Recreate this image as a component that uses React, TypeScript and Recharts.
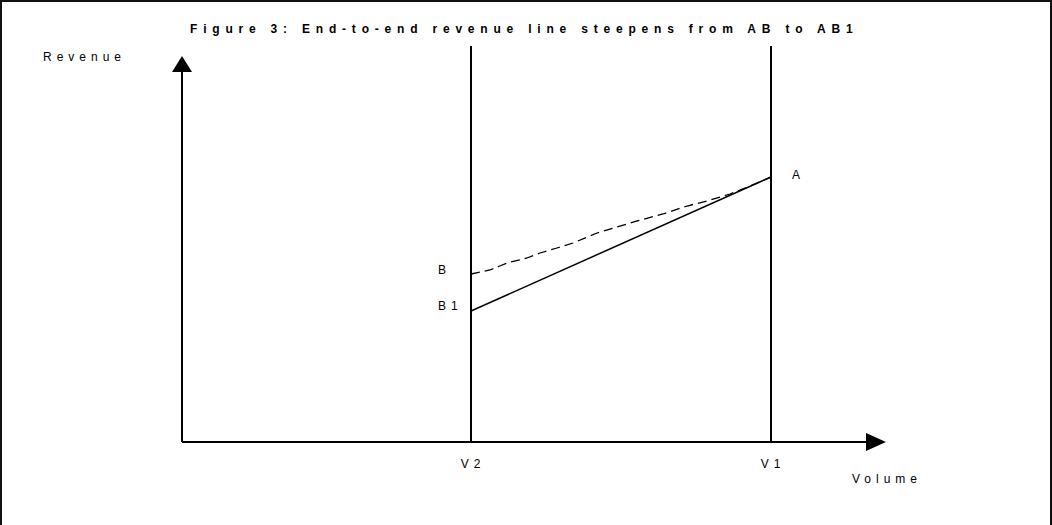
import { LineChart, Line, XAxis, YAxis, ReferenceLine, ReferenceDot } from 'recharts';

// volume (x) and revenue (y) in chart units
const markVolumes = [28.9, 58.9];
const markLabels = ['V2', 'V1'];

const solidVolume = [28.9, 58.9];
const solidRevenue = [13.1, 26.5];

const dashedVolume = [28.9, 30.8, 32.5, 34.5, 35.8, 37.5, 39.1, 41.5, 43.5, 45.5, 48.1, 50.5, 52.5, 54.8, 56.8, 58.9];
const dashedRevenue = [16.8, 17.2, 17.9, 18.4, 18.9, 19.4, 19.9, 20.9, 21.5, 22.1, 22.8, 23.6, 24.1, 24.8, 25.6, 26.5];

const pointLabels = ['A', 'B', 'B1'];
const pointVolume = [58.9, 28.9, 28.9];
const pointRevenue = [26.5, 16.8, 13.1];

const X_MAX = 70.4;
const Y_MAX = 39.6;
const X_AXIS_END = 68.4;
const Y_AXIS_END = 37;

const solidData = solidVolume.map((v, i) => ({ v, r: solidRevenue[i] }));
const dashedData = dashedVolume.map((v, i) => ({ v, r: dashedRevenue[i] }));

const FONT = '"Liberation Sans", Arial, sans-serif';

const RightArrow = (props: any) => {
    const { cx, cy } = props;
    return <polygon points={`${cx - 20},${cy - 9} ${cx},${cy} ${cx - 20},${cy + 9}`} fill="#000" />;
};

const UpArrow = (props: any) => {
    const { cx, cy } = props;
    return <polygon points={`${cx - 10},${cy + 16} ${cx},${cy} ${cx + 10},${cy + 16}`} fill="#000" />;
};

const makeText = (text: string, dx: number, dy: number, anchor: string = 'start') => (props: any) => (
    <text
        x={props.cx + dx}
        y={props.cy + dy}
        textAnchor={anchor}
        dominantBaseline="central"
        fontFamily={FONT}
        fontSize={12}
        fill="#000"
        style={{ letterSpacing: '5px' }}
    >
        {text}
    </text>
);

const labelOffsets: Record<string, [number, number]> = {
    A: [21, -2],
    B: [-33, -4],
    B1: [-33, -5],
};

export default function App() {
    return (
        <div style={{ position: 'absolute', left: 0, top: 0, width: 1052, height: 525, overflow: 'hidden', background: '#fff' }}>
            <div
                style={{
                    position: 'absolute',
                    left: 0,
                    top: 0,
                    width: 1052,
                    height: 600,
                    boxSizing: 'border-box',
                    border: '2px solid #111',
                }}
            />
            <div
                style={{
                    position: 'absolute',
                    left: 190,
                    top: 23,
                    fontFamily: FONT,
                    fontWeight: 'bold',
                    fontSize: 12,
                    lineHeight: '12px',
                    letterSpacing: '5.8px',
                    whiteSpace: 'nowrap',
                }}
            >
                Figure 3: End-to-end revenue line steepens from AB to AB1
            </div>
            <div
                style={{
                    position: 'absolute',
                    left: 43,
                    top: 51,
                    fontFamily: FONT,
                    fontSize: 12,
                    lineHeight: '12px',
                    letterSpacing: '5px',
                }}
            >
                Revenue
            </div>
            <div
                style={{
                    position: 'absolute',
                    left: 852,
                    top: 473,
                    fontFamily: FONT,
                    fontSize: 12,
                    lineHeight: '12px',
                    letterSpacing: '5px',
                }}
            >
                Volume
            </div>
            <div style={{ position: 'absolute', left: 0, top: 0 }}>
                <LineChart width={1052} height={525} margin={{ top: 46, right: 166, left: 182, bottom: 83 }}>
                    <XAxis type="number" dataKey="v" domain={[0, X_MAX]} hide allowDataOverflow />
                    <YAxis type="number" dataKey="r" domain={[0, Y_MAX]} hide allowDataOverflow />
                    <ReferenceLine
                        segment={[{ x: 0, y: 0 }, { x: X_AXIS_END, y: 0 }]}
                        stroke="#000"
                        strokeWidth={2}
                        ifOverflow="visible"
                    />
                    <ReferenceLine
                        segment={[{ x: 0, y: 0 }, { x: 0, y: Y_AXIS_END }]}
                        stroke="#000"
                        strokeWidth={2}
                        ifOverflow="visible"
                    />
                    <ReferenceDot x={X_MAX} y={0} r={0} shape={RightArrow} ifOverflow="visible" />
                    <ReferenceDot x={0} y={Y_AXIS_END + 1.6} r={0} shape={UpArrow} ifOverflow="visible" />
                    {markVolumes.map((v) => (
                        <ReferenceLine key={`ml${v}`} x={v} stroke="#000" strokeWidth={2} />
                    ))}
                    {markVolumes.map((v, i) => (
                        <ReferenceDot
                            key={`mt${v}`}
                            x={v}
                            y={0}
                            r={0}
                            shape={makeText(markLabels[i], 2, 22, 'middle')}
                            ifOverflow="visible"
                        />
                    ))}
                    <Line
                        data={dashedData}
                        dataKey="r"
                        type="linear"
                        stroke="#000"
                        strokeWidth={1.3}
                        strokeDasharray="9 5"
                        dot={false}
                        isAnimationActive={false}
                    />
                    <Line
                        data={solidData}
                        dataKey="r"
                        type="linear"
                        stroke="#000"
                        strokeWidth={1.5}
                        dot={false}
                        isAnimationActive={false}
                    />
                    {pointLabels.map((t, i) => (
                        <ReferenceDot
                            key={`pl${t}`}
                            x={pointVolume[i]}
                            y={pointRevenue[i]}
                            r={0}
                            shape={makeText(t, labelOffsets[t][0], labelOffsets[t][1])}
                            ifOverflow="visible"
                        />
                    ))}
                </LineChart>
            </div>
        </div>
    );
}
